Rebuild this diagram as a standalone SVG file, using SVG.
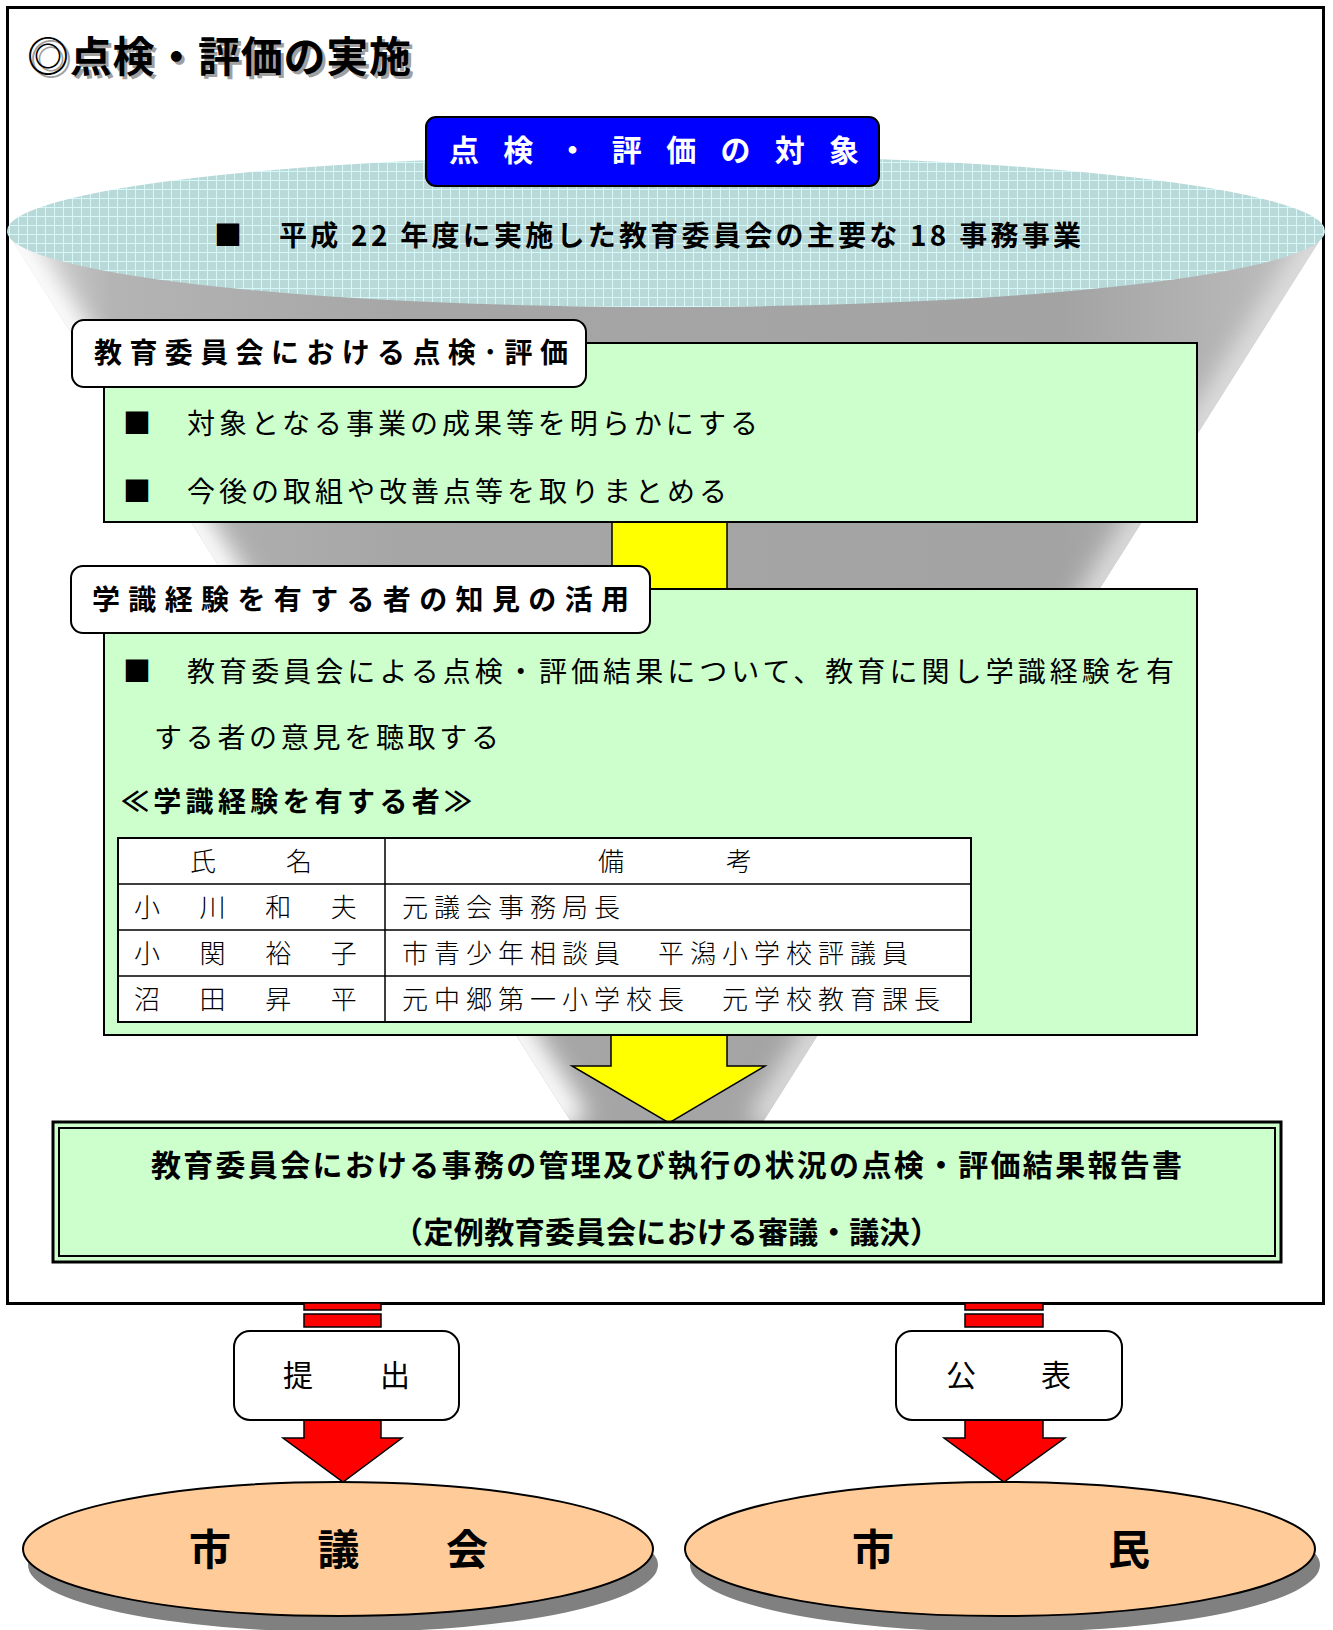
<svg xmlns="http://www.w3.org/2000/svg" width="1333" height="1630" viewBox="0 0 1333 1630">
<style>
text{font-family:"Noto Sans CJK JP","Noto Sans CJK SC",sans-serif;dominant-baseline:central;fill:#000}
.b{font-weight:bold}
.body{font-size:28px;letter-spacing:4px}
.lbl{font-size:28px;font-weight:bold}
.tb{font-size:26px;font-weight:300;letter-spacing:6px}
.green{fill:#ccffcc;stroke:#000;stroke-width:2}
.white{fill:#fff;stroke:#000;stroke-width:2}
.red{fill:#ff0000;stroke:#000;stroke-width:1.5}
.yel{fill:#ffff00;stroke:#000;stroke-width:1.5}
.peach{fill:#ffcc99;stroke:#000;stroke-width:2}
</style>
<defs>
<pattern id="grid" width="9" height="9" patternUnits="userSpaceOnUse">
<rect width="9" height="9" fill="#b9d9d9"/>
<path d="M0 0.5H9M0.5 0V9" stroke="#d6f8f8" stroke-width="1"/>
</pattern>
<clipPath id="coneClip"><path d="M7,232 L573,1125 L761,1125 L1325,232 Z"/></clipPath>
<filter id="soft" x="-50%" y="-50%" width="200%" height="200%"><feGaussianBlur stdDeviation="12"/></filter>
<linearGradient id="coneGrad" x1="7" y1="0" x2="1325" y2="0" gradientUnits="userSpaceOnUse">
<stop offset="0" stop-color="#d8d8d8"/>
<stop offset="0.08" stop-color="#b4b4b4"/>
<stop offset="0.3" stop-color="#a6a6a6"/>
<stop offset="0.8" stop-color="#a3a3a3"/>
<stop offset="1" stop-color="#c0c0c0"/>
</linearGradient>
</defs>

<g id="frame">
<rect x="7.5" y="7.5" width="1316" height="1296" fill="#fff" stroke="#000" stroke-width="3"/>
</g>

<g id="title">
<text x="30" y="56" class="b" font-size="42" textLength="384" lengthAdjust="spacing" style="fill:#a0a0a0">◎点検・評価の実施</text>
<text x="27" y="53" class="b" font-size="42" textLength="384" lengthAdjust="spacing">◎点検・評価の実施</text>
</g>

<g id="funnel">
<path d="M7,232 L573,1125 L761,1125 L1325,232 Z" fill="url(#coneGrad)"/>
<g clip-path="url(#coneClip)">
<path d="M7,232 L573,1125" stroke="#ffffff" stroke-width="36" filter="url(#soft)"/>
<path d="M1325,232 L761,1125" stroke="#e0e0e0" stroke-width="30" filter="url(#soft)"/>
</g>
<ellipse cx="666" cy="231" rx="659" ry="76" fill="url(#grid)"/>
<text x="214" y="234" class="b" font-size="28">■</text>
<text x="279" y="234" class="b" font-size="28" textLength="802" lengthAdjust="spacing">平成 22 年度に実施した教育委員会の主要な 18 事務事業</text>
</g>

<g id="target">
<rect x="426" y="117" width="453" height="69" rx="10" fill="#0000ff" stroke="#000" stroke-width="2"/>
<text x="449" y="148" class="b" font-size="30" textLength="410" lengthAdjust="spacing" style="fill:#fff">点検・評価の対象</text>
</g>

<g id="connectors">
<rect x="612" y="522" width="115" height="67" class="yel"/>
<path d="M611,1035 L727,1035 L727,1066 L765,1066 L669,1123 L572,1066 L611,1066 Z" class="yel"/>
<rect x="304" y="1303" width="77" height="7" class="red"/>
<rect x="304" y="1314" width="77" height="13" class="red"/>
<path d="M304,1420 L381,1420 L381,1438 L402,1438 L343,1482 L283,1438 L304,1438 Z" class="red"/>
<rect x="965" y="1303" width="78" height="7" class="red"/>
<rect x="965" y="1314" width="78" height="13" class="red"/>
<path d="M965,1420 L1043,1420 L1043,1438 L1065,1438 L1004,1482 L944,1438 L965,1438 Z" class="red"/>
</g>

<g id="board-eval">
<rect x="104" y="343" width="1093" height="179" class="green"/>
<rect x="72" y="320" width="514" height="67" rx="12" class="white"/>
<text x="94" y="351" class="lbl" textLength="474" lengthAdjust="spacing">教育委員会における点検･評価</text>
<text x="123" y="422" class="body">■</text>
<text x="187" y="422" class="body" textLength="575" lengthAdjust="spacing">対象となる事業の成果等を明らかにする</text>
<text x="123" y="490" class="body">■</text>
<text x="187" y="490" class="body" textLength="544" lengthAdjust="spacing">今後の取組や改善点等を取りまとめる</text>
</g>

<g id="experts">
<rect x="104" y="589" width="1093" height="446" class="green"/>
<rect x="71" y="566" width="579" height="67" rx="12" class="white"/>
<text x="92" y="598" class="lbl" textLength="537" lengthAdjust="spacing">学識経験を有する者の知見の活用</text>
<text x="123" y="670" class="body">■</text>
<text x="187" y="670" class="body" textLength="991" lengthAdjust="spacing">教育委員会による点検・評価結果について、教育に関し学識経験を有</text>
<text x="154" y="736" class="body" textLength="349" lengthAdjust="spacing">する者の意見を聴取する</text>
<text x="121" y="800" class="b" font-size="28" textLength="351" lengthAdjust="spacing">≪学識経験を有する者≫</text>
</g>

<g id="table">
<rect x="118" y="838" width="853" height="184" fill="#fff" stroke="#000" stroke-width="2"/>
<path d="M385,838V1022M118,884H971M118,930H971M118,976H971" stroke="#000" stroke-width="1.5" fill="none"/>
<text x="190" y="859" class="tb">氏　　名</text>
<text x="598" y="859" class="tb">備　　　考</text>
<text x="134" y="905" class="tb" style="letter-spacing:6.8px">小　川　和　夫</text>
<text x="402" y="905" class="tb">元議会事務局長</text>
<text x="134" y="951" class="tb" style="letter-spacing:6.8px">小　関　裕　子</text>
<text x="402" y="951" class="tb">市青少年相談員　平潟小学校評議員</text>
<text x="134" y="997" class="tb" style="letter-spacing:6.8px">沼　田　昇　平</text>
<text x="402" y="997" class="tb">元中郷第一小学校長　元学校教育課長</text>
</g>

<g id="report">
<rect x="53" y="1122" width="1228" height="140" fill="#ccffcc" stroke="#000" stroke-width="3"/>
<rect x="59" y="1128" width="1216" height="128" fill="none" stroke="#000" stroke-width="2"/>
<text x="151" y="1163" class="b" font-size="30" textLength="1031" lengthAdjust="spacing">教育委員会における事務の管理及び執行の状況の点検・評価結果報告書</text>
<text x="393" y="1230" class="b" font-size="30" textLength="547" lengthAdjust="spacing">（定例教育委員会における審議・議決）</text>
</g>

<g id="submit">
<rect x="234" y="1331" width="225" height="89" rx="16" class="white"/>
<text x="283" y="1373" font-size="30" textLength="127" lengthAdjust="spacing">提　　出</text>
</g>

<g id="publish">
<rect x="896" y="1331" width="226" height="89" rx="16" class="white"/>
<text x="946" y="1373" font-size="30" textLength="125" lengthAdjust="spacing">公　　表</text>
</g>

<g id="council">
<ellipse cx="343" cy="1565" rx="315" ry="67" fill="#808080"/>
<ellipse cx="338" cy="1549" rx="315" ry="67" class="peach"/>
<text x="189" y="1546" class="b" font-size="42" textLength="299" lengthAdjust="spacing">市　　議　　会</text>
</g>

<g id="citizens">
<ellipse cx="1005" cy="1565" rx="315" ry="67" fill="#808080"/>
<ellipse cx="1000" cy="1549" rx="315" ry="67" class="peach"/>
<text x="852" y="1546" class="b" font-size="42" textLength="298" lengthAdjust="spacing">市　　　　　民</text>
</g>
</svg>
